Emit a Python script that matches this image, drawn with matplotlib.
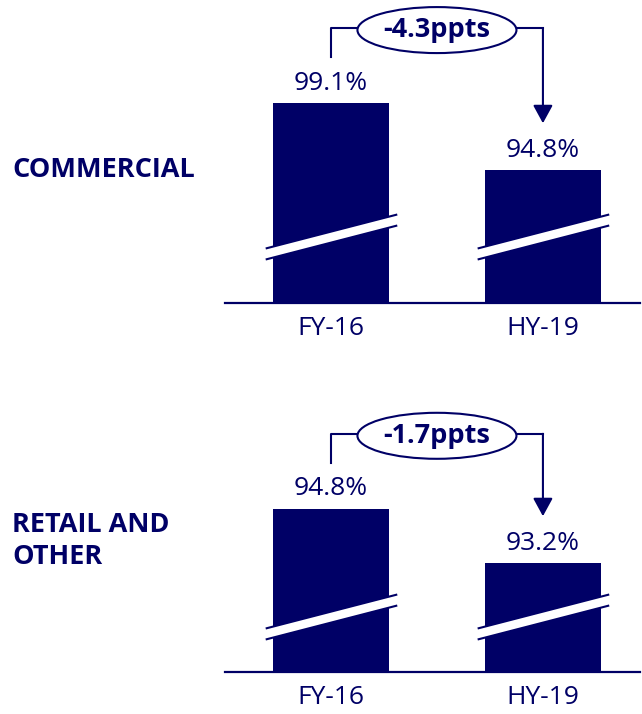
import matplotlib
matplotlib.use("Agg")
import matplotlib.pyplot as plt
from matplotlib.patches import Ellipse, Polygon

plt.rcParams['font.family'] = ['Open Sans', 'DejaVu Sans']

NAVY = '#000066'

periods = ['FY-16', 'HY-19']
segments = ['COMMERCIAL', 'RETAIL AND\nOTHER']
commercial = [99.1, 94.8]
retail = [94.8, 93.2]
changes = ['-4.3ppts', '-1.7ppts']

W, H = 642, 714
fig = plt.figure(figsize=(W / 100, H / 100), dpi=100)


def px_axes(left, top, right, bottom):
    # axes rectangle given in figure pixels (origin top-left)
    return fig.add_axes([left / W, 1 - bottom / H, (right - left) / W, (bottom - top) / H])


def draw_panel(ax, values, floor, ceil, change, brk):
    x = [0, 1]
    width = 0.55
    ax.bar(x, [v - floor for v in values], width=width, bottom=floor,
           color=NAVY, zorder=2)
    ax.set_ylim(floor, ceil)
    ax.set_xlim(-0.5, 1.458)
    for s in ['left', 'right', 'top']:
        ax.spines[s].set_visible(False)
    ax.spines['bottom'].set_color(NAVY)
    ax.spines['bottom'].set_linewidth(1.6)
    ax.set_yticks([])
    ax.set_xticks(x)
    ax.set_xticklabels(periods, fontsize=19, color=NAVY)
    ax.tick_params(axis='x', length=0, pad=9)

    # unit conversions (pixels -> data)
    bb = ax.get_position()
    ppu_y = bb.height * H / (ceil - floor)
    ppu_x = bb.width * W / (1.458 + 0.5)
    dy = lambda p: p / ppu_y
    dx = lambda p: p / ppu_x

    # value labels
    for xi, v in zip(x, values):
        ax.text(xi, v + dy(20), f'{v:.1f}%', ha='center', va='center',
                fontsize=19, color=NAVY)

    # axis break band across each bar
    y0, y1 = brk
    gap = 5.5
    for xi in x:
        xl = xi - width / 2 - dx(7)
        xr = xi + width / 2 + dx(8)
        band = Polygon([(xl, floor + dy(y0 - gap)), (xr, floor + dy(y1 - gap)),
                        (xr, floor + dy(y1 + gap)), (xl, floor + dy(y0 + gap))],
                       closed=True, facecolor='white', edgecolor='none', zorder=3)
        ax.add_patch(band)
        for g in (-gap, gap):
            ax.plot([xl, xr], [floor + dy(y0 + g), floor + dy(y1 + g)],
                    color=NAVY, lw=1.5, zorder=4, solid_capstyle='butt')

    # bracket with change bubble
    yb = values[0] + dy(75)
    ell_w = dx(159)
    ell_h = dy(46)
    xm = 0.5
    ax.plot([0, 0, xm - ell_w / 2], [values[0] + dy(46), yb, yb],
            color=NAVY, lw=1.5, clip_on=False)
    ax.plot([xm + ell_w / 2, 1], [yb, yb], color=NAVY, lw=1.5, clip_on=False)
    ax.annotate('', xy=(1, values[1] + dy(47)), xytext=(1, yb),
                arrowprops=dict(arrowstyle='-|>,head_length=0.55,head_width=0.3',
                                color=NAVY, lw=1.5, shrinkA=0, shrinkB=0,
                                mutation_scale=20),
                annotation_clip=False)
    ax.add_patch(Ellipse((xm, yb - dy(2)), ell_w, ell_h, facecolor='white',
                         edgecolor=NAVY, lw=1.5, clip_on=False, zorder=5))
    ax.text(xm, yb - dy(2), change, ha='center', va='center', fontsize=19.5,
            fontweight='bold', color=NAVY, zorder=6)


ax1 = px_axes(225, 0, 640, 303)
draw_panel(ax1, commercial, 86.3, 105.7, changes[0], (49, 83))

ax2 = px_axes(225, 400, 640, 672)
draw_panel(ax2, retail, 90.0, 98.0, changes[1], (38, 72))

fig.text(12 / W, 1 - 170 / H, segments[0], ha='left', va='center',
         fontsize=19.5, fontweight='bold', color=NAVY)
fig.text(12 / W, 1 - 541 / H, segments[1], ha='left', va='center',
         fontsize=19.5, fontweight='bold', color=NAVY, linespacing=1.28)

fig.savefig('out.png', dpi=100)
